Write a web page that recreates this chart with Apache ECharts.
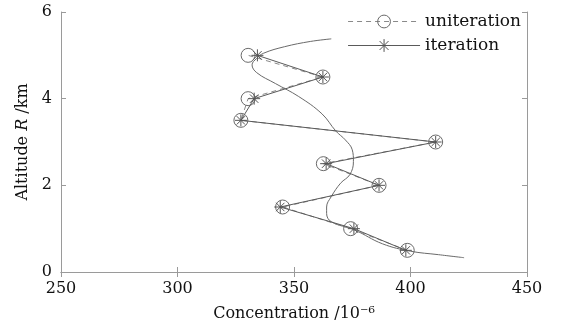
<!DOCTYPE html>
<html>
<head>
<meta charset="utf-8">
<script src="https://cdn.jsdelivr.net/npm/echarts@6/dist/echarts.min.js"></script>
<style>
  html, body { margin: 0; padding: 0; background: #fff; }
  #chart { width: 562px; height: 328px; }
</style>
</head>
<body>
<div id="chart"></div>
<script>
// altitude levels (km) shared by both retrieval series
const altitudes = [0.5, 1.0, 1.5, 2.0, 2.5, 3.0, 3.5, 4.0, 4.5, 5.0];
const uniterationConc = [398.6, 374.3, 345.1, 386.5, 362.6, 410.8, 327.2, 330.3, 362.4, 330.3];
const iterationConc = [398.0, 375.7, 344.1, 386.5, 363.8, 410.8, 327.2, 332.9, 362.4, 334.3];

// smooth reference profile (concentration, altitude)
const profileConc = [423, 412, 400, 388, 376, 366, 364, 364, 366, 370, 374, 375.5, 375, 372, 368, 362, 352, 342, 334, 332, 334, 337, 346, 357, 366];
const profileAlt = [0.33, 0.40, 0.48, 0.65, 0.97, 1.16, 1.35, 1.5, 1.74, 2.05, 2.25, 2.55, 2.82, 3.05, 3.25, 3.65, 4.05, 4.35, 4.6, 4.78, 4.93, 5.05, 5.2, 5.32, 5.38];

const xTicks = [250, 300, 350, 400, 450];
const yTicks = [0, 2, 4, 6];

const pairs = (xs, ys) => xs.map((x, i) => [x, ys[i]]);

const font = 'DejaVu Serif';
const axisGray = '#9a9a9a';
const lineGray = '#5a5a5a';
const starPath = 'path://M10,0L10,20M0,10L20,10M3,3L17,17M17,3L3,17';

const myChart = echarts.init(document.getElementById('chart'), null, { renderer: 'canvas' });

const baseX = {
    type: 'value',
    min: xTicks[0],
    max: xTicks[xTicks.length - 1],
    interval: 50,
    axisLine: { show: true, lineStyle: { color: axisGray, width: 1 } },
    axisTick: { show: true, inside: true, length: 5, lineStyle: { color: axisGray } },
    splitLine: { show: false }
};
const baseY = {
    type: 'value',
    min: yTicks[0],
    max: yTicks[yTicks.length - 1],
    interval: 2,
    axisLine: { show: true, lineStyle: { color: axisGray, width: 1 } },
    axisTick: { show: true, inside: true, length: 5, lineStyle: { color: axisGray } },
    splitLine: { show: false }
};

const option = {
    backgroundColor: '#ffffff',
    animation: false,
    grid: { left: 61, right: 35, top: 12, bottom: 56 },
    legend: {
        data: ['uniteration', 'iteration'],
        orient: 'vertical',
        right: 36,
        top: 8,
        itemWidth: 72,
        itemHeight: 16,
        itemGap: 7,
        itemStyle: { borderWidth: 1 },
        lineStyle: { width: 1 },
        textStyle: { fontFamily: font, fontSize: 17, color: '#111' }
    },
    xAxis: [
        Object.assign({}, baseX, {
            position: 'bottom',
            axisLabel: { fontFamily: font, fontSize: 16, color: '#111', margin: 9 },
            name: 'Concentration /10⁻⁶',
            nameLocation: 'middle',
            nameGap: 34,
            nameTextStyle: { fontFamily: font, fontSize: 16, color: '#111' }
        }),
        Object.assign({}, baseX, { position: 'top', axisLabel: { show: false } })
    ],
    yAxis: [
        Object.assign({}, baseY, {
            position: 'left',
            axisLabel: { fontFamily: font, fontSize: 16, color: '#111', margin: 9 },
            name: 'Altitude {i|R} /km',
            nameLocation: 'middle',
            nameGap: 26,
            nameRotate: 90,
            nameTextStyle: {
                fontFamily: font, fontSize: 16, color: '#111',
                rich: { i: { fontFamily: font, fontSize: 16, fontStyle: 'italic', color: '#111' } }
            }
        }),
        Object.assign({}, baseY, { position: 'right', axisLabel: { show: false } })
    ],
    series: [
        {
            name: 'profile',
            type: 'line',
            data: pairs(profileConc, profileAlt),
            smooth: 0.4,
            showSymbol: false,
            lineStyle: { color: '#6a6a6a', width: 1 }
        },
        {
            name: 'uniteration',
            type: 'line',
            data: pairs(uniterationConc, altitudes),
            symbol: 'circle',
            symbolSize: 14,
            lineStyle: { color: '#8a8a8a', width: 1, type: [5, 4] },
            itemStyle: { color: 'rgba(255,255,255,0)', borderColor: '#6a6a6a', borderWidth: 1 }
        },
        {
            name: 'iteration',
            type: 'line',
            data: pairs(iterationConc, altitudes),
            symbol: starPath,
            symbolSize: 12,
            lineStyle: { color: lineGray, width: 1 },
            itemStyle: { color: 'rgba(255,255,255,0)', borderColor: '#555', borderWidth: 1 }
        }
    ]
};

myChart.setOption(option);
</script>
</body>
</html>
